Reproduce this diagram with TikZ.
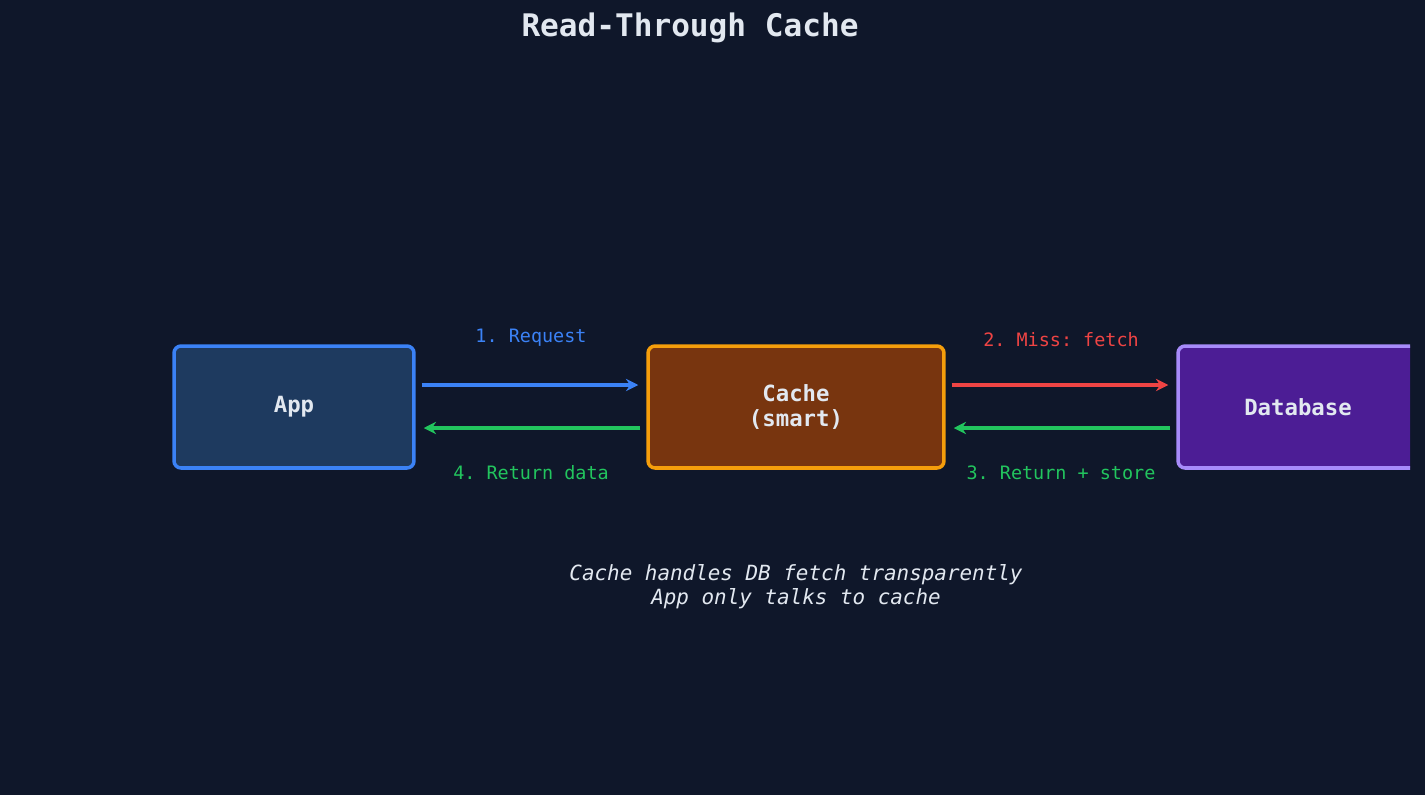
\documentclass[tikz,border=0pt]{standalone}
\usepackage{fontspec}
\setmonofont{DejaVu Sans Mono}
\usetikzlibrary{positioning,arrows.meta}
\definecolor{bg}{HTML}{0F172A}
\definecolor{txt}{HTML}{E2E8F0}
\definecolor{appfill}{HTML}{1E3A5F}
\definecolor{appline}{HTML}{3B82F6}
\definecolor{cachefill}{HTML}{78350F}
\definecolor{cacheline}{HTML}{F59E0B}
\definecolor{dbfill}{HTML}{4C1D95}
\definecolor{dbline}{HTML}{A78BFA}
\definecolor{missred}{HTML}{EF4444}
\definecolor{okgreen}{HTML}{22C55E}
\tikzset{
  box/.style={draw, line width=2pt, rounded corners=4pt, minimum height=2.44cm,
    align=center, text=txt, font=\ttfamily\bfseries\fontsize{12.7}{14}\selectfont},
  flow/.style={line width=2pt, -{Stealth[length=7pt,width=7pt]}, shorten <=0.12cm, shorten >=0.16cm},
  lbl/.style={font=\ttfamily\fontsize{10.5}{12}\selectfont}
}
\begin{document}
\begin{tikzpicture}[x=0.02cm,y=-0.02cm]
  \fill[bg] (0,0) rectangle (1425,795);
  \useasboundingbox (0,0) rectangle (1425,795);
  \node[text=txt, font=\ttfamily\bfseries\fontsize{17.7}{20}\selectfont] (title) at (690,28) {Read-Through Cache};

  % the three boxes
  \node[box, fill=appfill, draw=appline, minimum width=4.8cm] (app) at (294,407) {App};
  \node[box, fill=cachefill, draw=cacheline, minimum width=5.92cm] (cache) at (796,407) {Cache\\(smart)};
  \begin{scope}
    \clip (0,0) rectangle (1410,795);
    \node[box, fill=dbfill, draw=dbline, minimum width=4.8cm] (db) at (1298,407) {Database};
  \end{scope}

  % the arrows
  \draw[flow, appline] ([yshift=0.44cm]app.east) -- ([yshift=0.44cm]cache.west)
    node[midway, above=0.62cm, lbl] {1. Request};
  \draw[flow, missred] ([yshift=0.44cm]cache.east) -- ([yshift=0.44cm]db.west)
    node[midway, above=0.62cm, lbl] {2. Miss: fetch};
  \draw[flow, okgreen] ([yshift=-0.42cm]db.west) -- ([yshift=-0.42cm]cache.east)
    node[midway, below=0.6cm, lbl] {3. Return + store};
  \draw[flow, okgreen] ([yshift=-0.42cm]cache.west) -- ([yshift=-0.42cm]app.east)
    node[midway, below=0.6cm, lbl] {4. Return data};

  \node[text=txt, align=center, font=\ttfamily\itshape\fontsize{11.9}{13.6}\selectfont] (note) at (796,587)
    {Cache handles DB fetch transparently\\App only talks to cache};
\end{tikzpicture}
\end{document}
